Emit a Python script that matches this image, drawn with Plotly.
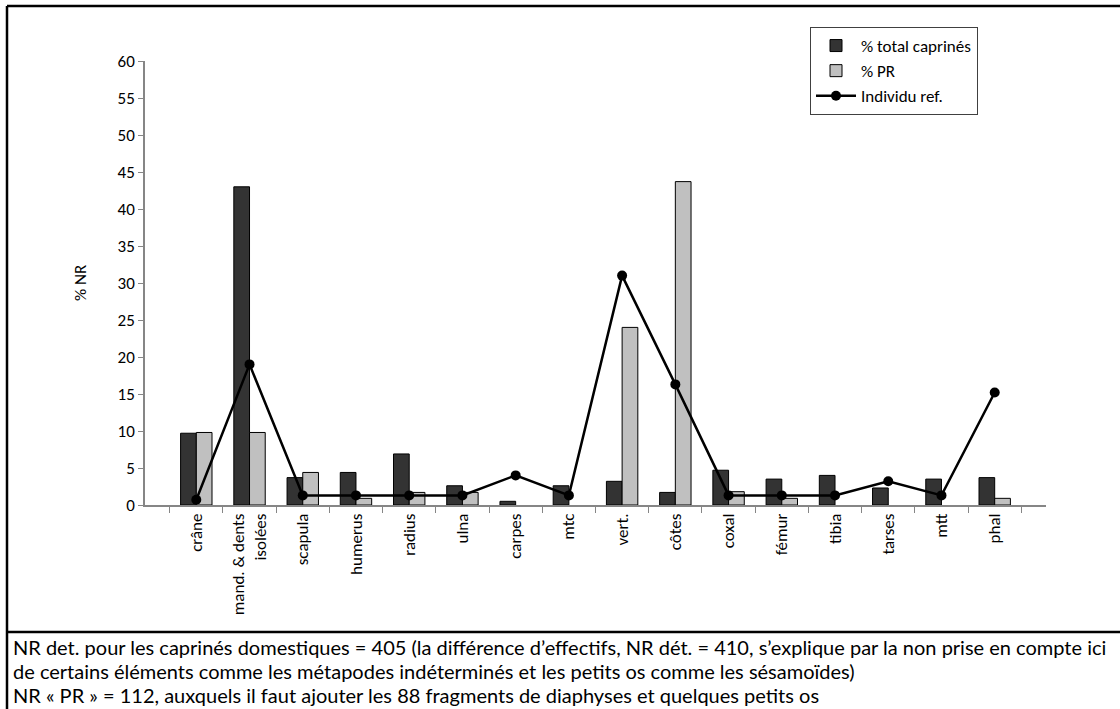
import plotly.graph_objects as go

W, H = 1120, 709

categories = ["crâne", "mand. & dents<br>isolées", "scapula", "humerus", "radius", "ulna",
              "carpes", "mtc", "vert.", "côtes", "coxal", "fémur", "tibia", "tarses", "mtt", "phal"]
total_caprines = [9.7, 43.0, 3.7, 4.4, 6.9, 2.6, 0.5, 2.6, 3.2, 1.7, 4.7, 3.5, 4.0, 2.3, 3.5, 3.7]
pct_pr = [9.8, 9.8, 4.4, 0.9, 1.7, 1.7, 0, 0, 24.0, 43.7, 1.8, 0.9, 0, 0, 0, 0.9]
individu_ref = [0.7, 19.0, 1.3, 1.3, 1.3, 1.3, 4.0, 1.3, 31.0, 16.3, 1.3, 1.3, 1.3, 3.2, 1.3, 15.2]
y_ticks = list(range(0, 61, 5))

note_lines = [
    "NR det. pour les caprinés domestiques = 405 (la différence d’effectifs, NR dét. = 410, s’explique par la non prise en compte ici",
    "de certains éléments comme les métapodes indéterminés et les petits os comme les sésamoïdes)",
    "NR « PR » = 112, auxquels il faut ajouter les 88 fragments de diaphyses et quelques petits os",
]

FONT = "Carlito, Calibri, 'Open Sans', sans-serif"
NOTE_FONT = "Lato, Carlito, sans-serif"
FS = 17
AXIS_GREY = "#868686"


def px_x(x):
    return x / W


def px_y(y):
    return 1 - y / H


def outline(values):
    # Excel draws nothing for an empty bar, so no outline on zeros
    return [1 if v else 0 for v in values]


fig = go.Figure()
fig.add_bar(x=categories, y=total_caprines, name="% total caprinés",
            marker=dict(color="#333333", line=dict(color="#000000", width=outline(total_caprines))))
fig.add_bar(x=categories, y=pct_pr, name="% PR",
            marker=dict(color="#C0C0C0", line=dict(color="#000000", width=outline(pct_pr))))
fig.add_scatter(x=categories, y=individu_ref, name="Individu ref.", mode="lines+markers",
                line=dict(color="#000000", width=2.5),
                marker=dict(color="#000000", size=10, symbol="circle"))

fig.update_layout(
    width=W, height=H,
    margin=dict(l=0, r=0, t=0, b=0),
    paper_bgcolor="white", plot_bgcolor="white",
    font=dict(family=FONT, size=FS, color="#000000"),
    barmode="group", bargap=0.41, bargroupgap=0,
    showlegend=True,
    legend=dict(x=px_x(810), y=px_y(27), xanchor="left", yanchor="top",
                bgcolor="white", bordercolor="#404040", borderwidth=1,
                font=dict(size=FS, family=FONT), tracegroupgap=0, itemwidth=40),
    xaxis=dict(domain=[px_x(145), px_x(1046)], tickangle=-90, showline=True,
               linecolor=AXIS_GREY, linewidth=1.5, ticks="outside", tickson="boundaries",
               ticklen=6, tickcolor=AXIS_GREY, showgrid=False, automargin=False,
               tickfont=dict(size=FS, family=FONT)),
    yaxis=dict(domain=[px_y(505), px_y(61)], range=[0, 60], tickvals=y_ticks,
               showline=True, linecolor=AXIS_GREY, linewidth=1.5, ticks="outside",
               ticklen=5, tickcolor=AXIS_GREY, showgrid=False, zeroline=False,
               automargin=False, tickfont=dict(size=FS, family=FONT)),
)

fig.add_annotation(text="% NR", xref="paper", yref="paper", x=px_x(80), y=px_y(283),
                   xanchor="center", yanchor="middle",
                   showarrow=False, textangle=-90, font=dict(size=FS, family=FONT))

# outer frame + separator above the note
frame = dict(color="#000000", width=2.5)
fig.add_shape(type="line", xref="paper", yref="paper", x0=px_x(7), x1=px_x(7),
              y0=px_y(6), y1=0, line=frame)
fig.add_shape(type="line", xref="paper", yref="paper", x0=px_x(7), x1=1,
              y0=px_y(6), y1=px_y(6), line=frame)
fig.add_shape(type="line", xref="paper", yref="paper", x0=px_x(7), x1=1,
              y0=px_y(632), y1=px_y(632), line=frame)

for i, line in enumerate(note_lines):
    fig.add_annotation(text=line, xref="paper", yref="paper", x=px_x(11), y=px_y(647 + 24 * i),
                       xanchor="left", yanchor="middle", showarrow=False,
                       font=dict(size=20, family=NOTE_FONT))

fig.write_html("out.html", config={"displayModeBar": False},
               post_script="document.body.style.margin='0';")
